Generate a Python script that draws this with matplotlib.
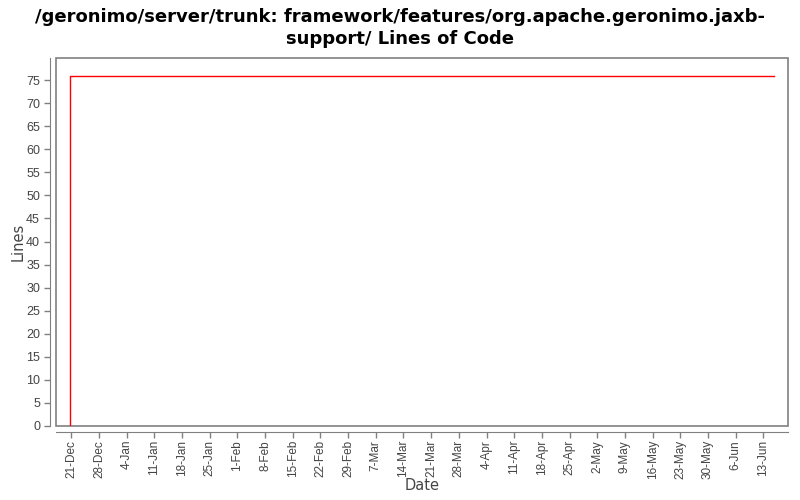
import matplotlib
matplotlib.use('Agg')
import matplotlib.pyplot as plt
import matplotlib.dates as mdates
from matplotlib.patches import Rectangle
import pandas as pd

# lines of code over time (step: 0 then 76)
dates = ['2007-12-21', '2007-12-21', '2008-06-16']
lines = [0, 76, 76]
y_ticks = list(range(0, 80, 5))

title = '/geronimo/server/trunk: framework/features/org.apache.geronimo.jaxb-\nsupport/ Lines of Code'

plt.rcParams['font.family'] = ['Liberation Sans', 'DejaVu Sans']

x = pd.to_datetime(dates)

fig = plt.figure(figsize=(8, 5), dpi=100)
ax = fig.add_axes([0.07, 0.148, 0.915, 0.736])

ax.plot(x, lines, color='#ff0000', linewidth=1)

span = x.max() - x.min()
ax.set_xlim(x.min() - span * 0.02, x.max() + span * 0.02)
ax.set_ylim(0, 76 * 1.05)

# weekly ticks starting at the first date
ax.xaxis.set_major_locator(mdates.RRuleLocator(
    mdates.rrulewrapper(mdates.WEEKLY, dtstart=x.min().to_pydatetime())))
ax.xaxis.set_major_formatter(mdates.DateFormatter('%-d-%b'))
ax.set_yticks(y_ticks)

ax.tick_params(axis='both', colors='#808080', labelcolor='#444444',
               labelsize=9, length=4, width=1)
ax.tick_params(axis='x', labelrotation=90, labelsize=8.5, pad=2)

for s in ['top', 'right']:
    ax.spines[s].set_visible(False)
for s in ['left', 'bottom']:
    ax.spines[s].set_position(('outward', 4))
    ax.spines[s].set_color('#808080')

# plot frame
ax.add_patch(Rectangle((0, 0), 1, 1, transform=ax.transAxes, fill=False,
                       edgecolor='#808080', linewidth=1.2, clip_on=False))

ax.set_xlabel('Date', fontsize=10.5, color='#444444', family='DejaVu Sans')
ax.set_ylabel('Lines', fontsize=10.5, color='#444444', family='DejaVu Sans')
ax.xaxis.set_label_coords(0.5, -0.141)
ax.yaxis.set_label_coords(-0.041, 0.5)
fig.suptitle(title, fontsize=13, fontweight='bold', y=0.985, linespacing=1.35,
             family='DejaVu Sans')

fig.savefig('out.png', dpi=100)
